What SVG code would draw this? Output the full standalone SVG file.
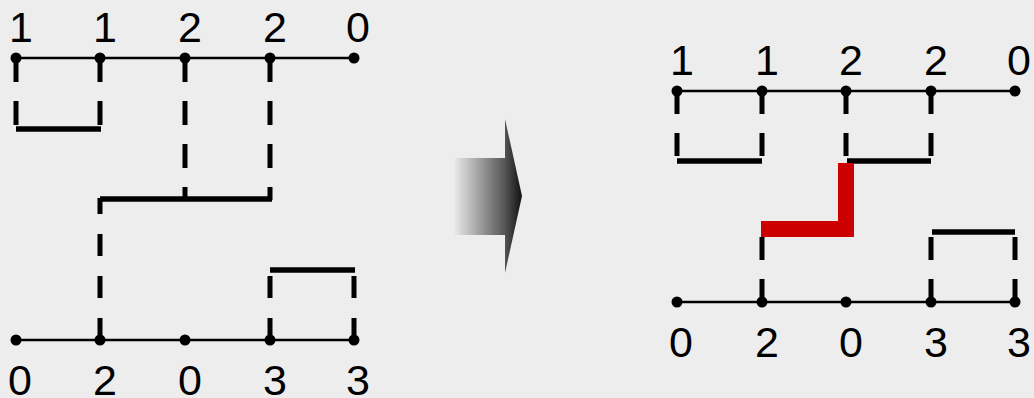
<svg xmlns="http://www.w3.org/2000/svg" width="1034" height="398" viewBox="0 0 1034 398">
<style>
.axis{stroke:#000;stroke-width:2.5;fill:none}
.dot{fill:#000}
.lbl{font-family:"Liberation Sans",Arial,sans-serif;font-size:43px;fill:#000;text-anchor:middle}
.dashL{stroke:#000;stroke-width:5;fill:none;stroke-dasharray:24 19}
.dashB{stroke:#000;stroke-width:5;fill:none;stroke-dasharray:22 20}
.dashR{stroke:#000;stroke-width:5;fill:none;stroke-dasharray:23 19}
.bar{stroke:#000;stroke-width:5.5;fill:none}
.red{stroke:#cc0000;stroke-width:16;fill:none;stroke-linejoin:miter}
</style>
<defs>
<linearGradient id="ag" gradientUnits="userSpaceOnUse" x1="453" y1="0" x2="522" y2="0">
<stop offset="0" stop-color="#eeeeee"/>
<stop offset="0.75" stop-color="#555555"/>
<stop offset="1" stop-color="#111111"/>
</linearGradient>
</defs>
<rect width="1034" height="398" fill="#ededed"/>

<g id="left-top-row">
<line class="axis" x1="16" y1="58" x2="354" y2="58"/>
<circle class="dot" cx="16" cy="58" r="5.5"/><circle class="dot" cx="100" cy="58" r="5.5"/><circle class="dot" cx="185" cy="58" r="5.5"/><circle class="dot" cx="270" cy="58" r="5.5"/><circle class="dot" cx="354" cy="58" r="5.5"/>
<text class="lbl" x="21" y="42">1</text><text class="lbl" x="105" y="42">1</text><text class="lbl" x="190" y="42">2</text><text class="lbl" x="275" y="42">2</text><text class="lbl" x="358" y="42">0</text>
</g>
<g id="left-bottom-row">
<line class="axis" x1="16" y1="340" x2="354" y2="340"/>
<circle class="dot" cx="16" cy="340" r="5.5"/><circle class="dot" cx="100" cy="340" r="5.5"/><circle class="dot" cx="185" cy="340" r="5.5"/><circle class="dot" cx="270" cy="340" r="5.5"/><circle class="dot" cx="354" cy="340" r="5.5"/>
<text class="lbl" x="20" y="395">0</text><text class="lbl" x="105" y="395">2</text><text class="lbl" x="190" y="395">0</text><text class="lbl" x="275" y="395">3</text><text class="lbl" x="358" y="395">3</text>
</g>
<g id="right-top-row">
<line class="axis" x1="677" y1="91" x2="1015" y2="91"/>
<circle class="dot" cx="677" cy="91" r="5.5"/><circle class="dot" cx="762" cy="91" r="5.5"/><circle class="dot" cx="846" cy="91" r="5.5"/><circle class="dot" cx="931" cy="91" r="5.5"/><circle class="dot" cx="1015" cy="91" r="5.5"/>
<text class="lbl" x="682" y="75">1</text><text class="lbl" x="767" y="75">1</text><text class="lbl" x="851" y="75">2</text><text class="lbl" x="936" y="75">2</text><text class="lbl" x="1019" y="75">0</text>
</g>
<g id="right-bottom-row">
<line class="axis" x1="677" y1="302" x2="1015" y2="302"/>
<circle class="dot" cx="677" cy="302" r="5.5"/><circle class="dot" cx="762" cy="302" r="5.5"/><circle class="dot" cx="846" cy="302" r="5.5"/><circle class="dot" cx="931" cy="302" r="5.5"/><circle class="dot" cx="1015" cy="302" r="5.5"/>
<text class="lbl" x="681" y="357">0</text><text class="lbl" x="767" y="357">2</text><text class="lbl" x="851" y="357">0</text><text class="lbl" x="936" y="357">3</text><text class="lbl" x="1019" y="357">3</text>
</g>
<g id="arrow">
<path d="M453,158 H505 V119 L522,196 L505,273 V235 H453 Z" fill="url(#ag)"/>
</g>
<g id="connectors">
<path class="dashL" d="M16,58 V128"/>
<path class="dashL" d="M100,58 V128"/>
<path class="bar" d="M16,129 H101"/>
<path class="dashL" d="M185,58 V200"/>
<path class="dashL" d="M270,58 V200"/>
<path class="bar" d="M100,199 H272"/>
<path class="dashB" d="M100,340 V198"/>
<path class="dashB" d="M270,340 V270"/>
<path class="dashB" d="M354,340 V270"/>
<path class="bar" d="M270,270 H355"/>

<path class="dashR" d="M677,91 V161"/>
<path class="dashR" d="M762,91 V161"/>
<path class="bar" d="M677,161 H762"/>
<path class="dashR" d="M846,91 V161"/>
<path class="dashR" d="M931,91 V161"/>
<path class="bar" d="M847,161 H931"/>
<path class="red" d="M846,163 V229 H761"/>
<path class="dashR" d="M762,302 V237"/>
<path class="dashR" d="M931,302 V232"/>
<path class="dashR" d="M1015,302 V232"/>
<path class="bar" d="M932,232 H1015"/>
</g>
</svg>
